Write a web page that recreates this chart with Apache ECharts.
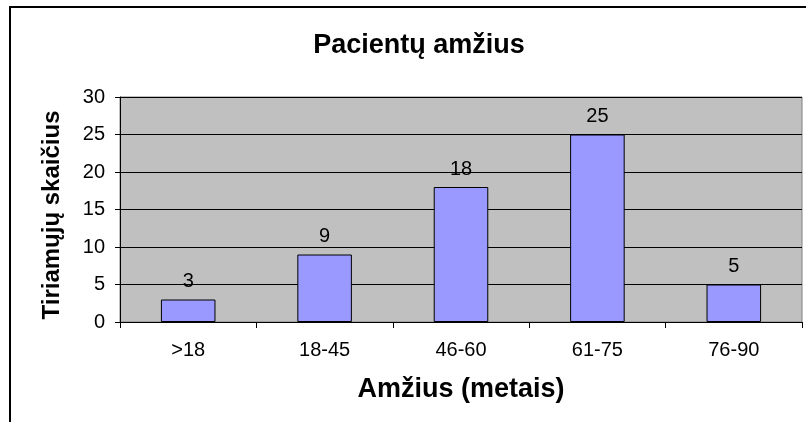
<!DOCTYPE html>
<html>
<head>
<meta charset="utf-8">
<script src="https://cdn.jsdelivr.net/npm/echarts@6/dist/echarts.min.js"></script>
<style>
html, body { margin: 0; padding: 0; background: #fff; }
#chart { width: 806px; height: 422px; }
</style>
</head>
<body>
<div id="chart"></div>
<script>
var categories = ['>18', '18-45', '46-60', '61-75', '76-90'];
var patients = [3, 9, 18, 25, 5];
var yTicks = [0, 5, 10, 15, 20, 25, 30];

var myChart = echarts.init(document.getElementById('chart'));

var option = {
    backgroundColor: '#fff',
    animation: false,
    title: {
        text: 'Pacientų amžius',
        left: 414,
        top: 27,
        textAlign: 'center',
        textStyle: {
            fontFamily: 'Arial, Liberation Sans',
            fontWeight: 'bold',
            fontSize: 27,
            color: '#000'
        }
    },
    graphic: [
        {
            type: 'rect',
            silent: true,
            shape: { x: 10, y: 7, width: 820, height: 460 },
            style: { fill: 'none', stroke: '#000', lineWidth: 2 }
        },
        {
            type: 'text',
            x: 52,
            y: 215,
            rotation: Math.PI / 2,
            style: {
                text: 'Tiriamųjų skaičius',
                fontFamily: 'Arial, Liberation Sans',
                fontWeight: 'bold',
                fontSize: 24,
                fill: '#000',
                align: 'center',
                verticalAlign: 'middle'
            }
        }
    ],
    grid: {
        left: 120,
        top: 97,
        right: 4,
        bottom: 100,
        show: true,
        backgroundColor: '#C0C0C0',
        borderColor: '#808080',
        borderWidth: 1
    },
    xAxis: {
        type: 'category',
        data: categories,
        boundaryGap: true,
        name: 'Amžius (metais)',
        nameLocation: 'middle',
        nameGap: 54,
        nameTextStyle: {
            fontFamily: 'Arial, Liberation Sans',
            fontWeight: 'bold',
            fontSize: 27,
            color: '#000'
        },
        axisLine: { lineStyle: { color: '#000', width: 1 } },
        axisTick: { show: true, alignWithLabel: false, length: 6, lineStyle: { color: '#000' } },
        axisLabel: {
            margin: 18,
            fontFamily: 'Arial, Liberation Sans',
            fontSize: 20,
            color: '#000'
        },
        splitLine: { show: false }
    },
    yAxis: {
        type: 'value',
        min: yTicks[0],
        max: yTicks[yTicks.length - 1],
        interval: yTicks[1] - yTicks[0],
        axisLine: { show: true, lineStyle: { color: '#000', width: 1 } },
        axisTick: { show: true, length: 5, lineStyle: { color: '#000' } },
        axisLabel: {
            margin: 15,
            fontFamily: 'Arial, Liberation Sans',
            fontSize: 20,
            color: '#000'
        },
        splitLine: { show: true, lineStyle: { color: '#000', width: 1 } }
    },
    series: [
        {
            type: 'bar',
            data: patients,
            barWidth: '40%',
            itemStyle: {
                color: '#9999FF',
                borderColor: '#000',
                borderWidth: 1
            },
            label: {
                show: true,
                position: 'top',
                distance: 8,
                fontFamily: 'Arial, Liberation Sans',
                fontSize: 20,
                color: '#000'
            }
        }
    ]
};

myChart.setOption(option);
</script>
</body>
</html>
